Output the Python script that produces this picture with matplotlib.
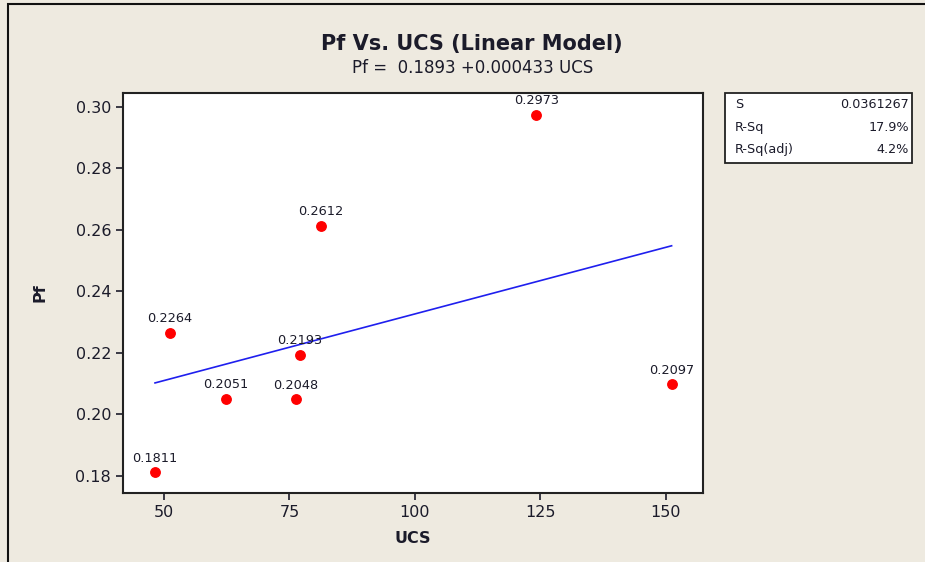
import matplotlib.pyplot as plt
from matplotlib.patches import Rectangle

# UCS vs Pf observations
ucs = [48.2, 51.1, 62.3, 76.3, 77.1, 81.3, 124.2, 151.2]
pf = [0.1811, 0.2264, 0.2051, 0.2048, 0.2193, 0.2612, 0.2973, 0.2097]

# fitted linear model
intercept = 0.1893
slope = 0.000433

# summary statistics
stat_names = ["S", "R-Sq", "R-Sq(adj)"]
stat_values = ["0.0361267", "17.9%", "4.2%"]

x_ticks = [50, 75, 100, 125, 150]
y_ticks = [0.18, 0.20, 0.22, 0.24, 0.26, 0.28, 0.30]

bg = "#eeeae0"
txt = "#1b1b2a"

fig = plt.figure(figsize=(9.25, 5.62), dpi=100, facecolor=bg)
plt.rcParams["font.family"] = "DejaVu Sans"

# outer frame (left and top edges visible)
fig.patches.append(Rectangle((8 / 925, -0.1), 1.2, 1 - 3.5 / 562 + 0.1,
                             transform=fig.transFigure, fill=False,
                             edgecolor="#111111", linewidth=1.5))

ax = fig.add_axes([123 / 925, 1 - 493 / 562, (702.7 - 123) / 925, (493 - 93) / 562])
ax.set_facecolor("white")

# regression line over observed range
xs = [min(ucs), max(ucs)]
ax.plot(xs, [intercept + slope * v for v in xs], color="#1f1fee", linewidth=1.2, zorder=2)

ax.plot(ucs, pf, linestyle="none", marker="o", markersize=6.8,
        color="#ff0000", markeredgecolor="#ff0000", zorder=3)
for x, y in zip(ucs, pf):
    ax.annotate(f"{y:.4f}", (x, y), xytext=(0, 5.5), textcoords="offset points",
                ha="center", va="bottom", fontsize=9.3, color=txt, zorder=4)

ax.set_xlim(41.82, 157.4)
ax.set_ylim(0.17438, 0.30445)
ax.set_xticks(x_ticks)
ax.set_yticks(y_ticks)
ax.set_yticklabels([f"{v:.2f}" for v in y_ticks])
ax.tick_params(direction="out", length=5, width=1.2, colors=txt, labelsize=11.5,
               top=False, right=False)
for s in ax.spines.values():
    s.set_color("#222222")
    s.set_linewidth(1.5)

ax.set_xlabel("UCS", fontsize=11.5, fontweight="bold", color=txt, labelpad=8)
ax.set_ylabel("Pf", fontsize=11.5, fontweight="bold", color=txt, labelpad=20)

fig.text(472 / 925, 1 - 44 / 562, "Pf Vs. UCS (Linear Model)", ha="center", va="center",
         fontsize=15, fontweight="bold", color=txt)
fig.text(473 / 925, 1 - 68 / 562, f"Pf =  {intercept} +{slope:.6f} UCS", ha="center",
         va="center", fontsize=12, color=txt)

# statistics box
fig.patches.append(Rectangle((725 / 925, 1 - 162.7 / 562), (911.7 - 725) / 925, (162.7 - 93.3) / 562,
                             transform=fig.transFigure, facecolor="white",
                             edgecolor="#222222", linewidth=1.3))
for i, (name, val) in enumerate(zip(stat_names, stat_values)):
    yy = 1 - (105 + i * 22.5) / 562
    fig.text(735 / 925, yy, name, ha="left", va="center", fontsize=9.2, color=txt)
    fig.text(909 / 925, yy, val, ha="right", va="center", fontsize=9.2, color=txt)

fig.savefig("out.png", dpi=100, facecolor=bg)
